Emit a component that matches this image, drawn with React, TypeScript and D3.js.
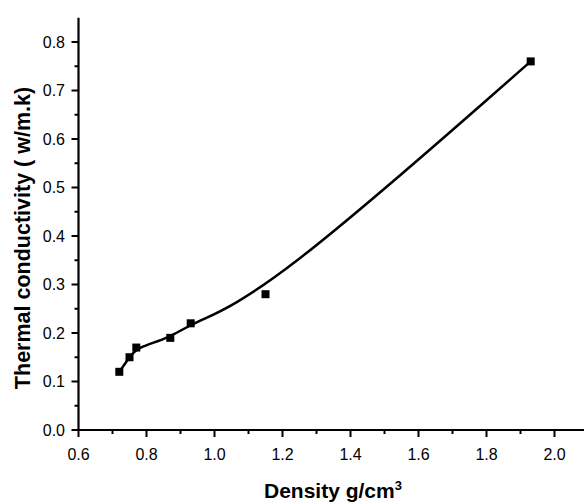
import React from "react";
import * as d3 from "d3";

const density = [0.72, 0.75, 0.77, 0.87, 0.93, 1.15, 1.93];
const conductivity = [0.12, 0.15, 0.17, 0.19, 0.22, 0.28, 0.76];
const xMajorTicks = [0.6, 0.8, 1.0, 1.2, 1.4, 1.6, 1.8, 2.0];
const xMinorTicks = [0.7, 0.9, 1.1, 1.3, 1.5, 1.7, 1.9];
const yMajorTicks = [0.0, 0.1, 0.2, 0.3, 0.4, 0.5, 0.6, 0.7, 0.8];
const yMinorTicks = [0.05, 0.15, 0.25, 0.35, 0.45, 0.55, 0.65, 0.75];

const W = 584;
const H = 504;
const FONT = "Arial, 'Liberation Sans', sans-serif";

export default function App() {
  const x = d3.scaleLinear().domain([0.6, 2.1]).range([78.5, 588.5]);
  const y = d3.scaleLinear().domain([0, 0.85]).range([430, 17.75]);
  const pts: [number, number][] = density.map((d, i) => [d, conductivity[i]]);
  const line = d3
    .line<[number, number]>()
    .x((d) => x(d[0]))
    .y((d) => y(d[1]))
    .curve(d3.curveBasis);
  const x0 = x(0.6);
  const y0 = y(0);
  return (
    <svg
      width={W}
      height={H}
      style={{ position: "absolute", left: 0, top: 0, display: "block", background: "#fff" }}
      fontFamily={FONT}
    >
      <rect width={W} height={H} fill="#fff" />
      {/* axes */}
      <line x1={x0} x2={W} y1={y0} y2={y0} stroke="#000" strokeWidth={2.2} />
      <line x1={x0} x2={x0} y1={y(0.85)} y2={y0 + 1.1} stroke="#000" strokeWidth={2.2} />
      {xMajorTicks.map((t) => (
        <g key={"xm" + t}>
          <line x1={x(t)} x2={x(t)} y1={y0} y2={y0 + 7} stroke="#000" strokeWidth={2} />
          <text x={x(t)} y={y0 + 30} textAnchor="middle" fontSize={16}>
            {t.toFixed(1)}
          </text>
        </g>
      ))}
      {xMinorTicks.map((t) => (
        <line key={"xn" + t} x1={x(t)} x2={x(t)} y1={y0} y2={y0 + 4} stroke="#000" strokeWidth={2} />
      ))}
      {yMajorTicks.map((t) => (
        <g key={"ym" + t}>
          <line x1={x0 - 7} x2={x0} y1={y(t)} y2={y(t)} stroke="#000" strokeWidth={2} />
          <text x={x0 - 13.5} y={y(t) + 5.8} textAnchor="end" fontSize={16}>
            {t.toFixed(1)}
          </text>
        </g>
      ))}
      {yMinorTicks.map((t) => (
        <line key={"yn" + t} x1={x0 - 4} x2={x0} y1={y(t)} y2={y(t)} stroke="#000" strokeWidth={2} />
      ))}
      {/* curve */}
      <path d={line(pts) || ""} fill="none" stroke="#000" strokeWidth={2.5} />
      {pts.map((p, i) => (
        <rect key={i} x={x(p[0]) - 4} y={y(p[1]) - 4} width={8} height={8} fill="#000" />
      ))}
      {/* titles */}
      <text x={333} y={498} textAnchor="middle" fontSize={21} fontWeight="bold">
        Density g/cm
        <tspan fontSize={13} dy={-8}>3</tspan>
      </text>
      <text
        transform={`translate(29.5,238) rotate(-90)`}
        textAnchor="middle"
        fontSize={21.5}
        fontWeight="bold"
      >
        Thermal conductivity ( w/m.k)
      </text>
    </svg>
  );
}
